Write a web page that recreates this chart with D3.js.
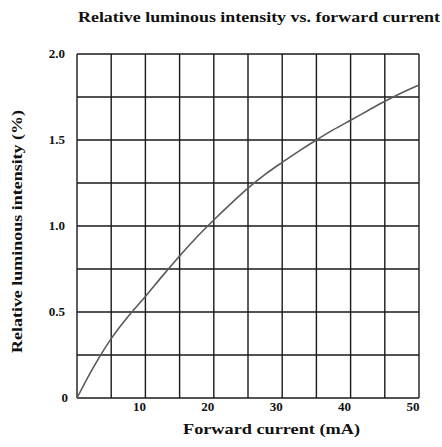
<!DOCTYPE html>
<html><head><meta charset="utf-8">
<script src="https://cdn.jsdelivr.net/npm/d3@7"></script>
<style>
body{margin:0;background:#fff;}
svg text{font-family:"Liberation Serif","DejaVu Serif",serif;font-weight:bold;fill:#111;}
</style></head>
<body>
<svg id="c" width="442" height="447"></svg>
<script>
const current = [0, 2.5, 5, 7.5, 10, 12.5, 15, 17.5, 20, 22.5, 25, 27.5, 30, 32.5, 35, 37.5, 40, 42.5, 45, 47.5, 50];
const intensity = [0, 0.185, 0.345, 0.475, 0.59, 0.71, 0.826, 0.935, 1.035, 1.13, 1.22, 1.30, 1.37, 1.437, 1.50, 1.56, 1.615, 1.67, 1.725, 1.775, 1.82];
const xGrid = [0, 5, 10, 15, 20, 25, 30, 35, 40, 45, 50];
const yGrid = [0, 0.25, 0.5, 0.75, 1.0, 1.25, 1.5, 1.75, 2.0];
const xTickLabels = [10, 20, 30, 40, 50];
const yTickValues = [0, 0.5, 1.0, 1.5, 2.0];
const yTickLabels = ["0", "0.5", "1.0", "1.5", "2.0"];

const L = 77, R = 419, T = 54, B = 398;
const svg = d3.select("#c");
const x = d3.scaleLinear().domain([0, 50]).range([L, R]);
const y = d3.scaleLinear().domain([0, 2]).range([B, T]);

const g = svg.append("g");
g.selectAll("line.v").data(xGrid).join("line").attr("class","v")
  .attr("x1", d => x(d)).attr("x2", d => x(d)).attr("y1", T).attr("y2", B)
  .attr("stroke", "#1a1a1a").attr("stroke-width", 1.4);
g.selectAll("line.h").data(yGrid).join("line").attr("class","h")
  .attr("y1", d => y(d)).attr("y2", d => y(d)).attr("x1", L).attr("x2", R)
  .attr("stroke", "#1a1a1a").attr("stroke-width", 1.4);

const line = d3.line().x((d, i) => x(current[i])).y(d => y(d)).curve(d3.curveCatmullRom);
svg.append("path").datum(intensity).attr("d", line)
  .attr("fill", "none").attr("stroke", "#5a5a5a").attr("stroke-width", 1.6);

svg.selectAll("text.xt").data(xTickLabels).join("text").attr("class","xt")
  .attr("x", d => x(d) - 6).attr("y", 411).attr("text-anchor", "middle")
  .attr("font-size", 13).text(d => d);
svg.selectAll("text.yt").data(yTickValues).join("text").attr("class","yt")
  .attr("x", (d,i) => i === 0 ? 68 : 65).attr("y", d => y(d) + 4).attr("text-anchor", "end")
  .attr("font-size", 13).text((d, i) => yTickLabels[i]);

svg.append("text").attr("x", 78).attr("y", 22)
  .attr("font-size", 15).attr("textLength", 362).attr("lengthAdjust", "spacingAndGlyphs")
  .text("Relative luminous intensity vs. forward current");
svg.append("text").attr("x", 183).attr("y", 434)
  .attr("font-size", 15).attr("textLength", 177).attr("lengthAdjust", "spacingAndGlyphs")
  .text("Forward current (mA)");
svg.append("text").attr("transform", "translate(22,353) rotate(-90)")
  .attr("font-size", 14).attr("textLength", 243).attr("lengthAdjust", "spacingAndGlyphs")
  .text("Relative luminous intensity (%)");
</script>
</body></html>
